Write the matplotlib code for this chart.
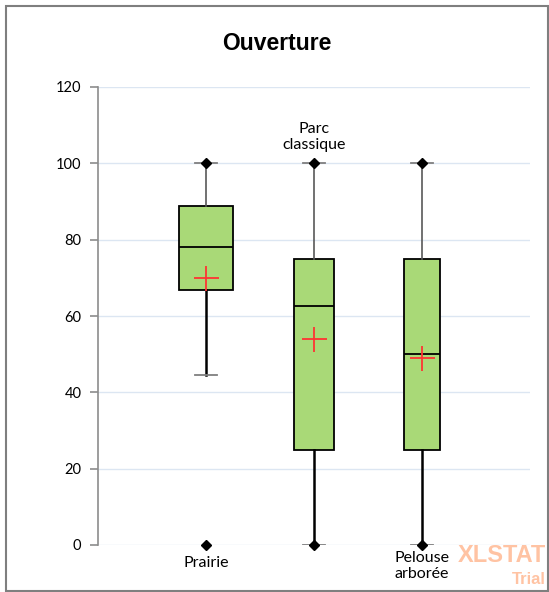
import matplotlib.pyplot as plt
from matplotlib.patches import Rectangle

# data
groups = ['Prairie', 'Parc\nclassique', 'Pelouse\narborée']
q1 = [66.7, 25.0, 25.0]
median = [78.0, 62.5, 50.0]
q3 = [88.9, 75.0, 75.0]
mean = [70.0, 54.0, 49.0]
whislo = [44.5, 0.0, 0.0]
whishi = [100.0, 100.0, 100.0]
extremes = [[0.0, 100.0], [0.0, 100.0], [0.0, 100.0]]
box_widths = [0.5, 0.37, 0.34]
label_y = [-4.7, 106.9, -5.5]
yticks = [0, 20, 40, 60, 80, 100, 120]

W, H = 549, 592
fig = plt.figure(figsize=(W / 100, H / 100), dpi=100)
ax = fig.add_axes([98 / W, 1 - 545 / H, 432 / W, 458 / H])

stats = []
for i in range(len(groups)):
    stats.append({'q1': q1[i], 'med': median[i], 'q3': q3[i], 'mean': mean[i],
                  'whislo': whislo[i], 'whishi': whishi[i], 'fliers': extremes[i]})

pos = [1, 2, 3]
parts = ax.bxp(stats, positions=pos, widths=box_widths, capwidths=[0.2] * 3,
               patch_artist=True, showmeans=True, showfliers=True,
               boxprops=dict(facecolor='#A9D977', edgecolor='black', linewidth=1.3),
               medianprops=dict(color='black', linewidth=1.3),
               whiskerprops=dict(color='black', linewidth=1.8),
               capprops=dict(color='#7f7f7f', linewidth=1.3),
               flierprops=dict(marker='D', markerfacecolor='black', markeredgecolor='black',
                               markersize=5.5),
               meanprops=dict(marker='+', markeredgecolor='#ff3333', markersize=18,
                              markeredgewidth=1.3))

# upper whiskers are thinner and grey in the original
for w in parts['whiskers'][1::2]:
    w.set_color('#595959')
    w.set_linewidth(1.2)
for f in parts['fliers']:
    f.set_clip_on(False)

ax.set_xlim(0, 4)
ax.set_ylim(0, 120)
ax.set_yticks(yticks)
ax.set_yticklabels([str(v) for v in yticks], fontsize=10.5, family='Lato')
ax.set_xticks([])
ax.yaxis.grid(True, color='#dce6f2', linewidth=1)
ax.set_axisbelow(True)
for s in ['top', 'right', 'bottom']:
    ax.spines[s].set_visible(False)
ax.spines['left'].set_color('#8c8c8c')
ax.spines['left'].set_linewidth(1.2)
ax.tick_params(axis='y', direction='out', length=6, color='#8c8c8c', width=1.2, pad=6)

for x, lab, ly in zip(pos, groups, label_y):
    ax.text(x, ly, lab, ha='center', va='center', fontsize=11.5, family='Lato',
            clip_on=False, linespacing=1.25)

fig.text(277 / W, 1 - 43 / H, 'Ouverture', ha='center', va='center',
         fontsize=16.5, fontweight='bold', family='Liberation Sans')

fig.text(546 / W, 1 - 556 / H, 'XLSTAT', ha='right', va='center', fontsize=17,
         fontweight='bold', color='#ffc3a3', family='Liberation Sans')
fig.text(546 / W, 1 - 580 / H, 'Trial', ha='right', va='center', fontsize=12,
         fontweight='bold', color='#ffc3a3', family='Liberation Sans')

fig.patches.append(Rectangle((6 / W, 1 / H), 542 / W, 585 / H, transform=fig.transFigure,
                             fill=False, edgecolor='#7f7f7f', linewidth=1.5))

fig.savefig('out.png', dpi=100)
